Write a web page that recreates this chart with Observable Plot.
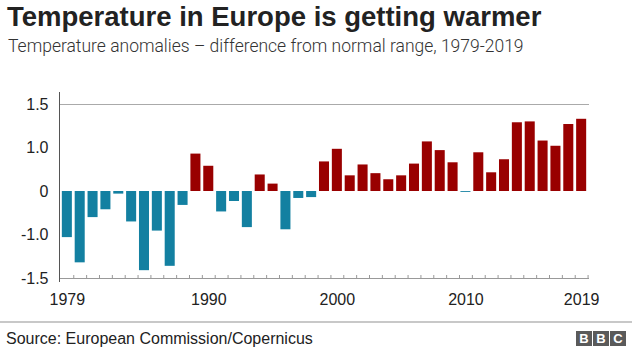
<!DOCTYPE html>
<html><head><meta charset="utf-8">
<script src="https://cdn.jsdelivr.net/npm/d3@7"></script>
<script src="https://cdn.jsdelivr.net/npm/@observablehq/plot@0.6"></script>
<style>
body{margin:0;width:632px;height:351px;position:relative;overflow:hidden;background:#fff;font-family:"Liberation Sans",Arial,sans-serif;}
#title{position:absolute;left:7px;top:1px;font-size:27.5px;font-weight:bold;color:#222;white-space:nowrap;}
#subtitle{position:absolute;left:8px;top:36px;font-family:Roboto,sans-serif;font-weight:300;font-size:17.5px;color:#333;white-space:nowrap;}
#chart{position:absolute;left:0;top:60px;}
#rule{position:absolute;left:0;top:321px;width:632px;height:2px;background:#c8c8c8;}
#source{position:absolute;left:6px;top:330px;font-size:16px;color:#222;white-space:nowrap;}
#logo{position:absolute;left:576px;top:331px;display:flex;gap:1px;}
#logo span{width:16px;height:15px;background:#5a5a5a;color:#fff;font:bold 13px "Liberation Sans",Arial,sans-serif;display:flex;align-items:center;justify-content:center;}
</style></head>
<body>
<div id="title">Temperature in Europe is getting warmer</div>
<div id="subtitle">Temperature anomalies – difference from normal range, 1979-2019</div>
<div id="chart"></div>
<div id="rule"></div>
<div id="source">Source: European Commission/Copernicus</div>
<div id="logo"><span>B</span><span>B</span><span>C</span></div>
<script>
const years = [1979,1980,1981,1982,1983,1984,1985,1986,1987,1988,
  1989,1990,1991,1992,1993,1994,1995,1996,1997,1998,
  1999,2000,2001,2002,2003,2004,2005,2006,2007,2008,
  2009,2010,2011,2012,2013,2014,2015,2016,2017,2018,2019];
const anomalies = [-1.03,-1.32,-0.60,-0.42,-0.06,-0.70,-1.41,-0.91,-1.36,-0.32,
  0.86,0.58,-0.47,-0.23,-0.83,0.38,0.17,-0.88,-0.16,-0.14,
  0.68,0.97,0.36,0.61,0.41,0.27,0.36,0.63,1.07,0.94,
  0.66,-0.02,0.89,0.43,0.73,1.29,1.30,1.08,1.02,1.27,1.33];
const xLabelYears = [1979,1990,2000,2010,2019];
const yTickValues = [-1.5,-1.0,0,1.0,1.5];
const yTickLabels = ["-1.5","-1.0","0","1.0","1.5"];
const NEG = "#1380A1", POS = "#990000";

const W=632,H=256,ML=59,MR=43,MT=44,MB=38,PAD=0.22;
const step=(W-ML-MR)/(years.length+PAD);
const data = years.map((year,i)=>({year, value: anomalies[i], color: anomalies[i]<0?NEG:POS}));
// evenly spaced (piecewise) vertical scale, as in the original graphic
const yRange = yTickValues.map((_,i)=>(H-MB)-i*(H-MB-MT)/(yTickValues.length-1));

const plot = Plot.plot({
  width:W,height:H,marginLeft:ML,marginRight:MR,marginTop:MT,marginBottom:MB,
  style:{fontFamily:"'Liberation Sans',Arial,sans-serif",fontSize:"16px",color:"#222",background:"transparent",overflow:"visible"},
  x:{type:"band",domain:years,padding:PAD,align:0.5,axis:null,label:null},
  y:{type:"linear",domain:yTickValues,range:yRange,axis:null,label:null},
  color:{type:"identity"},
  marks:[
    Plot.ruleY([1.5],{stroke:"#aaaaaa"}),
    Plot.ruleY([-1.5],{stroke:"#999999"}),
    Plot.barY(data,{x:"year",y1:0,y2:"value",fill:"color"}),
    Plot.ruleX(years,{x:d=>d,dx:step/2,y1:-1.5,y2:-1.5,insetTop:-3,stroke:"#999999"}),
    Plot.ruleX([years[0]],{x:d=>d,dx:-step*(1+PAD)/2,y1:1.5,y2:-1.5,insetTop:-12,insetBottom:-4,stroke:"#555555"}),
    Plot.axisX({ticks:xLabelYears,tickFormat:d=>String(d),tickSize:0,tickPadding:15,fill:"#222",label:null}),
    Plot.axisY({ticks:yTickValues,tickFormat:d=>yTickLabels[yTickValues.indexOf(d)],tickSize:0,tickPadding:11,fill:"#222",label:null})
  ]
});
document.getElementById("chart").appendChild(plot);
</script>
</body></html>
